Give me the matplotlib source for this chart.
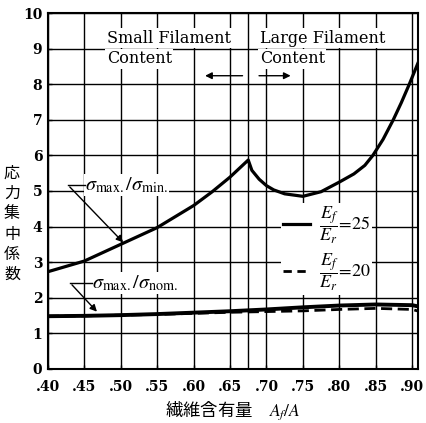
import numpy as np
import matplotlib
matplotlib.use("Agg")
import matplotlib.pyplot as plt
from matplotlib.lines import Line2D

plt.rcParams['mathtext.fontset'] = 'stix'
cjk = ['Noto Sans CJK JP', 'DejaVu Sans']

# -- data
x_upper = [0.40, 0.45, 0.50, 0.55, 0.60, 0.625, 0.65, 0.675,
           0.68, 0.69, 0.70, 0.71, 0.725, 0.75, 0.775, 0.80, 0.82,
           0.835, 0.846, 0.86, 0.874, 0.885, 0.896, 0.908]
y_upper = [2.73, 3.03, 3.50, 3.97, 4.59, 4.97, 5.39, 5.87,
           5.58, 5.33, 5.15, 5.03, 4.92, 4.85, 4.98, 5.25, 5.48,
           5.72, 6.00, 6.45, 7.00, 7.48, 8.00, 8.60]

x_lower = [0.40, 0.45, 0.50, 0.55, 0.60, 0.65, 0.70, 0.75, 0.80, 0.85, 0.90, 0.907]
y_nom25 = [1.48, 1.49, 1.51, 1.54, 1.58, 1.62, 1.67, 1.73, 1.78, 1.81, 1.79, 1.76]
y_nom20 = [1.48, 1.49, 1.51, 1.53, 1.56, 1.59, 1.61, 1.63, 1.67, 1.70, 1.67, 1.63]

x_ticks = [0.40, 0.45, 0.50, 0.55, 0.60, 0.65, 0.70, 0.75, 0.80, 0.85, 0.90]
x_ticklabels = ['.40', '.45', '.50', '.55', '.60', '.65', '.70', '.75', '.80', '.85', '.90']
y_ticks = list(range(0, 11))
boundary = 0.675

# -- figure
fig = plt.figure(figsize=(4.27, 4.23), dpi=100)
ax = fig.add_axes([0.112, 0.128, 0.867, 0.841])
ax.set_xlim(0.40, 0.908)
ax.set_ylim(0, 10)

# grid
for xv in x_ticks + [boundary]:
    ax.axvline(xv, color='k', lw=1.0, zorder=1)
for yv in y_ticks:
    ax.axhline(yv, color='k', lw=1.0, zorder=1)

ax.set_xticks(x_ticks)
ax.set_xticklabels(x_ticklabels)
ax.set_yticks(y_ticks)
ax.tick_params(direction='in', length=3, width=1)
ax.tick_params(axis='x', pad=8)
ax.tick_params(axis='y', pad=4)
for lab in ax.get_xticklabels() + ax.get_yticklabels():
    lab.set_fontfamily('DejaVu Serif')
    lab.set_fontweight('bold')
    lab.set_fontsize(10)
for spine in ax.spines.values():
    spine.set_linewidth(1.5)

# curves
ax.plot(x_upper, y_upper, color='k', lw=2.3, zorder=4, solid_joinstyle='round')
ax.plot(x_lower, y_nom25, color='k', lw=2.8, zorder=4)
ax.plot(x_lower, y_nom20, color='k', lw=2.0, ls=(0, (4, 2)), zorder=4)

# region labels
box = dict(facecolor='white', edgecolor='none', pad=1)
for xl, txt in [(0.481, 'Small Filament'), (0.691, 'Large Filament')]:
    ax.text(xl, 9.3, txt, family='DejaVu Serif', fontsize=11.5,
            va='center', ha='left', bbox=box, zorder=3)
    ax.text(xl, 8.72, 'Content', family='DejaVu Serif', fontsize=11.5,
            va='center', ha='left', bbox=box, zorder=3)
arr = dict(arrowstyle='-|>', color='k', lw=1.0, mutation_scale=10)
ax.annotate('', xy=(0.612, 8.24), xytext=(0.671, 8.24), arrowprops=arr, zorder=5)
ax.annotate('', xy=(0.737, 8.24), xytext=(0.686, 8.24), arrowprops=arr, zorder=5)

# curve labels with leaders
ax.text(0.451, 5.17, r'$\sigma_{\rm max.}/\sigma_{\rm min.}$', fontsize=14.5,
        va='center', ha='left', bbox=box, zorder=3)
ax.plot([0.4275, 0.451], [5.17, 5.17], color='k', lw=1.0, zorder=5)
ax.annotate('', xy=(0.506, 3.50), xytext=(0.4275, 5.17), arrowprops=arr, zorder=5)

ax.text(0.460, 2.42, r'$\sigma_{\rm max.}/\sigma_{\rm nom.}$', fontsize=14.5,
        va='center', ha='left', bbox=box, zorder=3)
ax.plot([0.4305, 0.460], [2.42, 2.42], color='k', lw=1.0, zorder=5)
ax.annotate('', xy=(0.470, 1.55), xytext=(0.4305, 2.42), arrowprops=arr, zorder=5)

# legend
handles = [Line2D([], [], color='k', lw=2.3),
           Line2D([], [], color='k', lw=2.0, ls=(0, (3, 2)))]
labels = [r'$\dfrac{E_f}{E_r}\!=\!25$', r'$\dfrac{E_f}{E_r}\!=\!20$']
leg = ax.legend(handles, labels, loc='center left', bbox_to_anchor=(0.605, 0.337),
                frameon=True, fontsize=13, borderpad=0.1, handlelength=1.5,
                handletextpad=0.5, labelspacing=0.35, fancybox=False)
leg.get_frame().set_edgecolor('none')
leg.get_frame().set_facecolor('white')
leg.get_frame().set_alpha(1)
leg.set_zorder(3)

# axis labels
fig.text(12 / 427, 1 - 224 / 423, '応\n力\n集\n中\n係\n数', family=cjk, fontsize=11.5,
         ha='center', va='center', linespacing=1.25)
fig.text(233 / 427, 1 - 410 / 423, '繊維含有量　$A_f/A$', family=cjk, fontsize=12.5,
         ha='center', va='center')

fig.savefig('out.png', dpi=100)
